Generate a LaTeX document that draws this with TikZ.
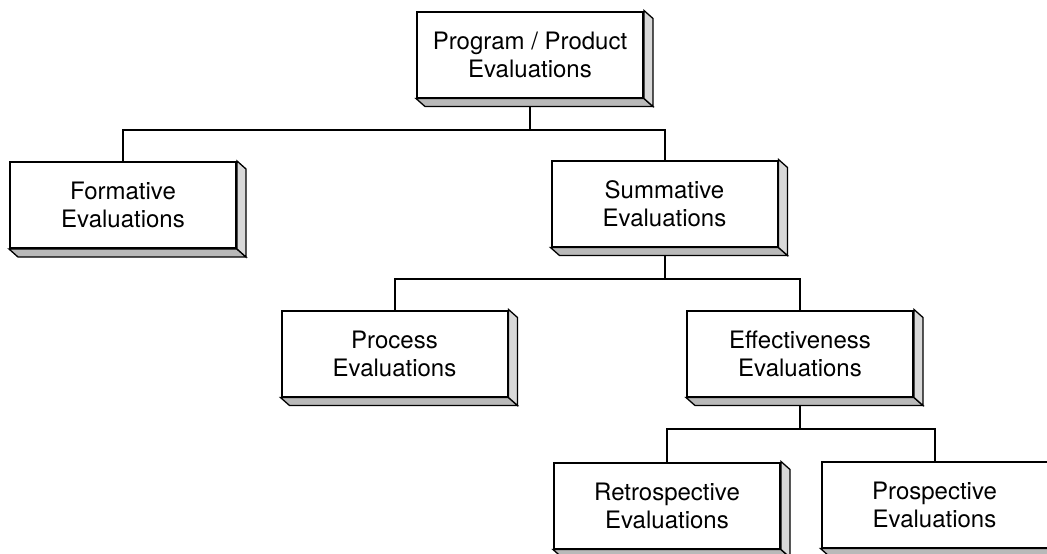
\documentclass[tikz,border=0pt]{standalone}
\usepackage{fontspec}
\setmainfont{TeX Gyre Heros}
\usetikzlibrary{positioning,backgrounds}

\begin{document}
\begin{tikzpicture}
    [x=1pt,y=1pt,on grid,
    block/.style={draw,line width=2pt,fill=white,minimum width=226pt,minimum height=86pt,
      inner sep=0pt,align=center,font=\fontsize{24}{28}\selectfont},
    link/.style={line width=2pt},
    side/.style={draw,line width=1.3pt,fill=gray!30},
    base/.style={draw,line width=1.3pt,fill=gray!55}]
    \useasboundingbox (0,0) rectangle (1047,-554);
    \node[block] (program) at (530,-54.5) {Program / Product\\Evaluations};
    \node[block] (formative) [below left=150.5pt and 407pt of program] {Formative\\Evaluations};
    \node[block] (summative) [below right=149pt and 134.5pt of program] {Summative\\Evaluations};
    \node[block] (process) [below left=150pt and 270pt of summative] {Process\\Evaluations};
    \node[block] (effectiveness) [below right=150pt and 135.5pt of summative] {Effectiveness\\Evaluations};
    \node[block] (retrospective) [below left=152pt and 133pt of effectiveness] {Retrospective\\Evaluations};
    \node[block] (prospective) [below right=151pt and 134.5pt of effectiveness] {Prospective\\Evaluations};
    % depth faces
    \foreach \n in {program,formative,summative,process,effectiveness,retrospective,prospective}{
      \draw[base] (\n.south west) -- ++(9,-8) -- ([shift={(9,-8)}]\n.south east) -- (\n.south east) -- cycle;
      \draw[side] (\n.north east) -- ++(9,-8) -- ([shift={(9,-8)}]\n.south east) -- (\n.south east) -- cycle;
    }
    % tree lines
    \begin{scope}[on background layer]
      \coordinate (program bar) at ([yshift=-31pt]program.south);
      \coordinate (summative bar) at ([yshift=-31pt]summative.south);
      \coordinate (effectiveness bar) at ([yshift=-31pt]effectiveness.south);
      \draw[link] (program.south) -- (program bar);
      \draw[link] (formative.north) |- (program bar) -| (summative.north);
      \draw[link] (summative.south) -- (summative bar);
      \draw[link] (process.north) |- (summative bar) -| (effectiveness.north);
      \draw[link] (effectiveness.south) -- (effectiveness bar);
      \draw[link] (retrospective.north) |- (effectiveness bar) -| (prospective.north);
    \end{scope}
\end{tikzpicture}
\end{document}
